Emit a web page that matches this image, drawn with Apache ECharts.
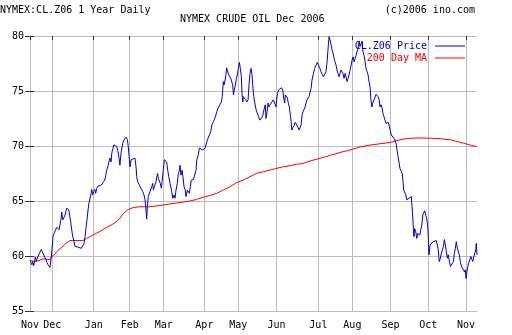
<!DOCTYPE html>
<html><head><meta charset="utf-8">
<script src="https://cdn.jsdelivr.net/npm/echarts@6/dist/echarts.min.js"></script>
<style>html,body{margin:0;padding:0;background:#fff}#c{width:512px;height:335px}</style>
</head><body><div id="c"></div>
<script>
// x = trading-day index from the first day shown (mid Nov 2005)
const priceDay = [0,0.6,1.1,1.5,2.1,2.7,3.0,3.6,4.1,4.9,5.6,6.4,6.9,7.5,8.3,9.0,9.6,10.2,10.7,11.3,12.0,12.4,13.0,13.6,14.3,15.1,15.8,16.4,16.9,17.5,17.9,18.5,19.0,19.6,20.2,20.7,21.3,21.9,22.4,23.0,23.6,24.1,24.7,25.3,25.8,26.4,27.1,28.1,29.0,29.9,30.5,31.1,31.6,32.2,32.8,33.3,33.9,34.5,34.9,35.4,36.0,36.6,37.1,37.7,38.4,39.4,40.3,40.8,41.4,42.2,42.8,43.3,44.1,44.6,45.2,45.8,46.2,46.7,47.3,48.2,49.0,49.7,50.3,50.8,51.4,52.4,53.1,54.2,55.0,55.5,56.1,56.5,57.1,57.6,59.3,59.9,60.3,60.8,61.8,62.7,63.7,64.4,65.0,65.5,65.9,66.3,66.8,67.8,68.8,69.3,69.7,70.2,71.2,71.6,72.1,72.5,73.1,73.6,74.2,74.7,75.3,75.9,76.4,77.2,77.8,78.4,79.1,80.1,80.6,81.4,81.9,82.5,83.2,83.8,84.4,84.7,85.3,85.9,86.4,87.0,87.7,88.1,88.9,89.4,90.0,90.6,91.1,92.3,93.4,93.8,94.2,95.1,95.7,96.4,97.6,98.9,99.4,100.2,101.3,102.1,102.8,103.6,104.1,104.7,105.5,106.2,106.9,107.5,108.1,108.6,109.2,109.6,110.2,110.7,111.1,111.7,112.3,112.8,113.4,114.0,114.5,114.9,115.4,116.0,116.6,117.1,117.7,118.3,118.8,119.4,119.8,120.2,120.5,121.1,121.9,122.4,123.2,123.7,124.3,124.9,125.4,125.8,126.4,126.9,127.5,128.1,128.6,129.2,129.8,130.3,130.9,131.5,132.0,132.4,132.9,133.3,133.9,134.5,135.0,135.6,136.2,136.7,137.5,138.4,139.0,139.4,139.9,140.5,141.2,142.0,142.8,143.3,143.9,144.2,144.8,145.4,145.9,146.5,147.1,147.5,147.9,148.4,149.2,149.7,150.3,150.8,151.4,152.1,152.7,153.1,153.7,154.2,154.8,155.4,155.9,156.5,157.1,157.6,158.2,158.8,159.3,160.1,160.8,161.6,162.3,163.1,163.8,164.4,165.0,165.7,166.5,167.2,167.8,168.4,168.9,169.5,170.1,170.6,171.2,171.8,172.3,172.9,173.4,174.0,174.6,175.1,175.7,176.3,176.8,177.4,178.0,178.5,179.1,179.7,180.2,180.8,181.4,181.9,182.5,183.1,183.6,184.2,184.7,185.3,185.9,186.4,187.0,187.6,188.1,188.7,189.3,189.8,190.4,191.0,191.5,192.1,192.5,193.1,193.6,194.2,194.7,195.5,196.0,196.6,197.2,197.7,198.3,198.9,199.4,200.0,200.6,201.1,201.7,202.3,202.8,203.4,204.1,205.1,206.0,206.8,207.3,207.9,208.5,209.0,209.8,210.3,210.7,211.1,211.7,212.3,212.8,213.6,214.1,214.7,215.4,215.8,216.2,216.6,216.9,217.3,217.9,218.5,219.0,219.6,220.2,220.7,221.3,221.9,222.4,223.0,223.6,224.1,224.7,225.0,225.4,226.0,226.6,227.1,227.7,228.6,229.5,230.1,230.5,230.9,231.2,231.8,232.4,232.9,233.5,234.1,234.6,235.2,235.8,236.3,236.9,237.5,238.0,238.6,239.2,239.7,240.3,240.8,241.4,242.0,242.5,243.1,243.7,244.2,244.8,245.4,245.9,246.3,246.7,247.3,247.8,248.4,249.0,249.5,250.1,250.7,251.2,251.8,252.1,252.5];
const priceValue = [59.6,59.4,59.2,59.5,59.1,59.6,59.9,59.5,59.8,60.1,60.25,60.6,60.4,60.25,59.9,59.7,59.4,59.2,59.35,58.97,59.9,60.55,61.75,62.05,62.1,62.6,62.7,62.4,62.8,63.3,64.0,63.3,63.4,63.6,64.0,64.35,64.45,64.2,63.7,63.1,62.35,61.8,61.45,60.9,61.0,60.85,60.8,60.8,60.7,60.6,61.15,61.75,62.5,63.3,64.2,64.8,65.25,65.7,66.05,65.55,65.85,66.05,65.7,66.15,66.35,66.3,66.45,66.35,66.6,66.9,67.35,67.8,68.2,68.55,68.9,68.55,69.35,69.7,70.1,70.1,69.95,69.5,68.9,68.25,69.35,70.25,70.55,70.8,70.6,69.95,69.8,68.1,68.75,68.9,68.9,68.1,67.2,66.75,66.45,66.15,65.85,65.55,65.1,64.2,63.35,64.5,65.4,65.85,66.3,66.6,66.0,66.3,66.75,67.2,67.5,67.05,66.9,66.6,66.15,66.9,67.8,68.75,68.9,68.55,67.8,67.2,66.6,65.85,65.25,65.55,65.25,66.0,66.6,67.5,67.8,68.25,67.35,67.8,67.2,66.3,66.0,65.4,66.0,66.15,65.7,66.3,66.9,66.95,67.05,67.8,68.75,69.2,69.8,69.65,69.65,69.8,70.1,70.55,70.6,71.3,71.95,72.2,72.15,72.65,73.1,73.45,73.55,73.8,74.0,74.5,75.85,75.55,76.0,76.5,77.1,76.75,76.45,76.3,76.15,76.3,75.55,74.65,75.1,75.55,76.15,76.45,77.05,77.6,77.05,76.3,74.65,74.0,74.5,74.35,74.2,74.0,74.2,75.55,76.6,77.05,76.5,75.55,74.5,74.0,73.45,73.1,73.25,72.65,72.35,72.5,72.55,72.8,72.65,73.45,73.75,72.5,73.1,73.9,73.55,73.75,73.9,74.0,74.2,74.35,73.55,74.35,74.8,75.1,75.25,75.3,75.1,74.35,73.9,74.65,74.7,74.35,73.9,73.55,72.8,72.25,71.45,71.65,71.85,72.15,72.05,71.9,71.85,71.45,71.3,71.9,72.8,73.1,73.25,73.55,73.9,74.2,74.35,74.5,74.65,75.25,76.0,76.6,77.05,77.35,77.6,77.5,77.05,76.75,76.5,76.3,76.45,76.75,77.65,78.9,79.95,79.65,79.2,78.75,78.45,77.95,77.65,77.35,76.9,76.6,76.3,76.6,76.9,77.05,76.6,76.15,76.6,76.3,75.85,76.15,76.45,76.9,77.35,77.8,78.1,77.65,77.95,78.25,78.55,78.9,79.55,79.05,78.9,79.5,78.55,78.25,77.65,77.05,76.75,76.45,75.85,75.4,74.35,73.55,73.9,74.05,74.35,74.7,74.8,74.5,74.2,73.55,73.75,73.45,72.95,72.65,72.5,72.05,71.9,72.15,71.9,71.75,71.0,70.8,70.6,70.25,69.65,69.05,68.45,67.95,67.8,67.5,66.75,66.0,65.85,65.55,65.1,65.05,65.25,65.4,65.4,64.5,63.55,62.35,61.75,62.5,62.2,61.6,62.05,62.2,61.9,62.35,62.8,63.75,63.9,64.1,63.65,63.45,62.65,61.75,60.1,61.0,61.15,60.85,61.3,61.4,61.4,61.45,60.7,59.95,59.5,59.8,60.25,60.55,60.85,61.5,61.0,60.4,59.8,60.1,59.5,59.05,59.2,58.9,59.5,60.25,60.7,61.3,60.7,60.85,60.1,59.5,59.05,58.9,58.75,58.55,58.75,57.95,58.45,59.05,59.35,59.65,59.95,60.1,59.5,59.95,60.1,60.55,61.15,60.1];
const maDay = [0,3.4,7.3,11.3,12.1,14.1,15.8,18.1,20.3,22.6,25.4,29.9,31.9,35.6,39.5,43.2,46.9,49.2,50.8,52.7,55.5,58.4,62.1,67.8,71.6,75.3,79.1,84.7,90.4,94.2,97.9,101.7,105.5,109.2,113.0,116.8,120.5,124.3,128.1,131.8,135.6,139.4,143.1,146.9,150.7,153.7,158.2,163.8,169.5,175.1,180.8,186.4,192.1,197.7,203.4,207.2,212.8,218.5,226.0,232.2,237.9,243.5,248.6,252.4];
const maValue = [59.59,59.5,59.73,59.68,59.91,60.18,60.5,60.82,61.14,61.41,61.41,61.41,61.59,61.91,62.23,62.59,62.91,63.18,63.43,63.86,64.23,64.41,64.48,64.48,64.55,64.64,64.73,64.86,65.0,65.15,65.34,65.5,65.7,66.0,66.3,66.68,66.91,67.21,67.52,67.66,67.82,67.97,68.12,68.21,68.34,68.39,68.64,68.88,69.14,69.41,69.64,69.91,70.09,70.2,70.32,70.5,70.68,70.73,70.71,70.66,70.55,70.32,70.09,69.94];
const monthTicks = [0,12.6,36.0,56.3,75.5,98.5,117.7,139.2,162.9,182.1,203.6,225.0,246.3];
const monthLabels = ['Nov','Dec','Jan','Feb','Mar','Apr','May','Jun','Jul','Aug','Sep','Oct','Nov'];
const yMin = 55, yMax = 80, yStep = 5;
const xMax = 252.5;

const FONT = 'DejaVu Sans Mono';
const GRID = '#bdbdbd';
const TICK = '#333333';
const chart = echarts.init(document.getElementById('c'), null, {renderer: 'canvas'});
chart.setOption({
  animation: false,
  backgroundColor: '#ffffff',
  title: [
    {text: 'NYMEX:CL.Z06 1 Year Daily', left: 0, top: 4, padding: 0,
     textStyle: {fontFamily: FONT, fontSize: 10, fontWeight: 'normal', color: '#000', lineHeight: 12}},
    {text: 'NYMEX CRUDE OIL Dec 2006', left: 180, top: 13, padding: 0,
     textStyle: {fontFamily: FONT, fontSize: 10, fontWeight: 'normal', color: '#000', lineHeight: 12}},
    {text: '(c)2006 ino.com', right: 37, top: 4, padding: 0,
     textStyle: {fontFamily: FONT, fontSize: 10, fontWeight: 'normal', color: '#000', lineHeight: 12}}
  ],
  legend: {
    orient: 'vertical', right: 47, top: 40, padding: 0, itemGap: 0,
    align: 'right', itemWidth: 30, itemHeight: 1, icon: 'rect',
    textStyle: {fontFamily: FONT, fontSize: 10, lineHeight: 12, padding: [0, 3, 0, 0]},
    data: [
      {name: 'CL.Z06 Price', textStyle: {color: '#0000cc'}},
      {name: '200 Day MA', textStyle: {color: '#ff0000'}}
    ]
  },
  grid: {left: 30, right: 35, top: 36, bottom: 24, containLabel: false},
  xAxis: [
    {type: 'value', min: 0, max: xMax, position: 'bottom',
     axisLine: {show: true, lineStyle: {color: GRID, width: 1}},
     axisTick: {show: false, customValues: monthTicks},
     axisLabel: {customValues: monthTicks, margin: 9, fontFamily: FONT, fontSize: 10, color: '#000',
       formatter: v => monthLabels[monthTicks.indexOf(v)] || ''},
     splitLine: {show: true, lineStyle: {color: GRID, width: 1}}},
    {type: 'value', min: 0, max: xMax, position: 'top',
     axisLine: {show: true, lineStyle: {color: GRID, width: 1}},
     axisTick: {show: true, inside: true, length: 4, customValues: monthTicks, lineStyle: {color: TICK}},
     axisLabel: {show: false}, splitLine: {show: false}}
  ],
  yAxis: [
    {type: 'value', min: yMin, max: yMax, interval: yStep, position: 'left',
     axisLine: {show: true, lineStyle: {color: GRID, width: 1}},
     axisTick: {show: true, inside: true, length: 4, lineStyle: {color: TICK}},
     axisLabel: {margin: 6, fontFamily: FONT, fontSize: 10, color: '#000'},
     splitLine: {show: true, lineStyle: {color: GRID, width: 1}}},
    {type: 'value', min: yMin, max: yMax, interval: yStep, position: 'right',
     axisLine: {show: false},
     axisTick: {show: true, inside: true, length: 5, lineStyle: {color: TICK}},
     axisLabel: {show: false}, splitLine: {show: false}}
  ],
  series: [
    {name: '200 Day MA', type: 'line', xAxisIndex: 0, yAxisIndex: 0, symbol: 'none',
     color: '#ff0000', lineStyle: {color: '#ff0000', width: 1},
     data: maDay.map((d, i) => [d, maValue[i]])},
    {name: 'CL.Z06 Price', type: 'line', xAxisIndex: 0, yAxisIndex: 0, symbol: 'none',
     color: '#0000cc', lineStyle: {color: '#0000cc', width: 1},
     data: priceDay.map((d, i) => [d, priceValue[i]])}
  ]
});
</script></body></html>
